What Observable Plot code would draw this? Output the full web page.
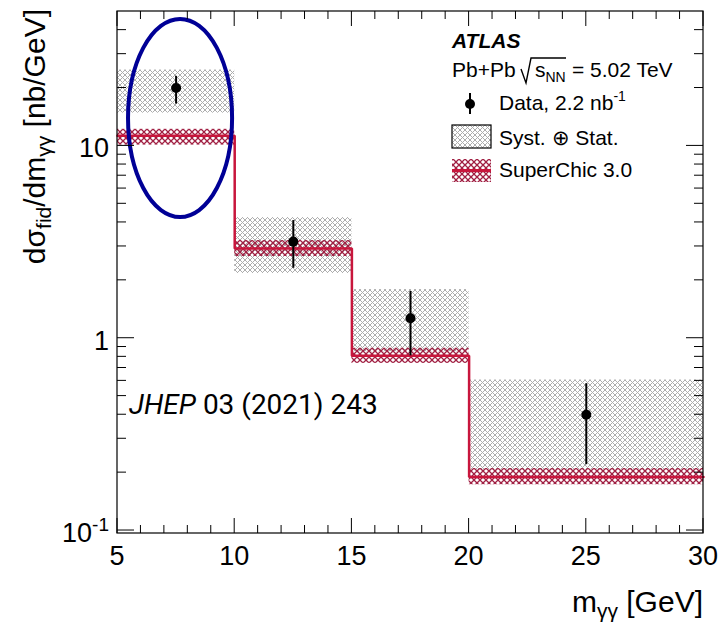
<!DOCTYPE html>
<html><head><meta charset="utf-8">
<script src="https://cdn.jsdelivr.net/npm/d3@7"></script>
<script src="https://cdn.jsdelivr.net/npm/@observablehq/plot@0.6"></script>
<style>body{margin:0;background:#fff} svg{display:block}</style>
</head><body><div id="chart"></div>
<script>
// ---- data ----
const binLo = [5, 10, 15, 20];
const binHi = [10, 15, 20, 30];
const binMid = [7.5, 12.5, 17.5, 25];
const dataY = [20.0, 3.18, 1.27, 0.40];
const statLo = [16.5, 2.31, 0.81, 0.22];
const statHi = [23.0, 4.09, 1.75, 0.58];
const systLo = [14.8, 2.17, 0.85, 0.207];
const systHi = [24.8, 4.24, 1.79, 0.606];
const theory = [11.3, 2.93, 0.81, 0.19];
const theoryLo = [10.1, 2.66, 0.74, 0.173];
const theoryHi = [12.2, 3.22, 0.887, 0.21];
// axis ticks
const xMajor = [5, 10, 15, 20, 25, 30];
const xMajorLabels = ["5", "10", "15", "20", "25", "30"];
const xMinor = [6, 7, 8, 9, 11, 12, 13, 14, 16, 17, 18, 19, 21, 22, 23, 24, 26, 27, 28, 29];
const yMajor = [0.1, 1, 10];
const yMajorLabels = [["10", "-1"], ["1", ""], ["10", ""]];
const yMinor = [0.2, 0.3, 0.4, 0.5, 0.6, 0.7, 0.8, 0.9, 2, 3, 4, 5, 6, 7, 8, 9, 20, 30, 40];
// highlight ellipse extent (data units)
const ellipseX = [5.47, 9.91];
const ellipseY = [4.24, 45.5];

const RED = "#c8163c", RED_HATCH = "#a01f42", GRAY_HATCH = "#adadad", BLUE = "#000096";
const FONT = "'Liberation Sans', Arial, Helvetica, sans-serif";

const bins = binLo.map((lo, i) => ({
  lo, hi: binHi[i], mid: binMid[i], y: dataY[i],
  eLo: statLo[i], eHi: statHi[i], sLo: systLo[i], sHi: systHi[i],
  t: theory[i], tLo: theoryLo[i], tHi: theoryHi[i]
}));
const step = [...binLo, binHi[binHi.length - 1]].map((x, i) => ({x, y: theory[Math.min(i, theory.length - 1)]}));

function defsMark() {
  const g = d3.create("svg:g");
  const defs = g.append("defs");
  const pg = defs.append("pattern").attr("id", "hatchGray").attr("patternUnits", "userSpaceOnUse")
    .attr("width", 5).attr("height", 5);
  pg.append("path").attr("d", "M-1,-1L6,6M6,-1L-1,6").attr("stroke", GRAY_HATCH).attr("stroke-width", 1).attr("fill", "none");
  const pr = defs.append("pattern").attr("id", "hatchRed").attr("patternUnits", "userSpaceOnUse")
    .attr("width", 6).attr("height", 6);
  pr.append("path").attr("d", "M-1,-1L7,7M7,-1L-1,7").attr("stroke", RED_HATCH).attr("stroke-width", 1.3).attr("fill", "none");
  return g.node();
}

function ellipseMark(index, {x, y}) {
  const x1 = x(ellipseX[0]), x2 = x(ellipseX[1]), y1 = y(ellipseY[0]), y2 = y(ellipseY[1]);
  const g = d3.create("svg:g");
  g.append("ellipse").attr("cx", (x1 + x2) / 2).attr("cy", (y1 + y2) / 2)
    .attr("rx", Math.abs(x2 - x1) / 2).attr("ry", Math.abs(y2 - y1) / 2)
    .attr("fill", "none").attr("stroke", BLUE).attr("stroke-width", 4);
  return g.node();
}

function axesMark(index, {x, y}, values, dims) {
  const {width, height, marginLeft, marginRight, marginTop, marginBottom} = dims;
  const L = marginLeft, R = width - marginRight, T = marginTop, B = height - marginBottom;
  const g = d3.create("svg:g");
  g.append("rect").attr("x", L).attr("y", T).attr("width", R - L).attr("height", B - T)
    .attr("fill", "none").attr("stroke", "black").attr("stroke-width", 1.2);
  let d = "";
  for (const v of xMajor) { const p = x(v); d += `M${p},${B}v-15M${p},${T}v15`; }
  for (const v of xMinor) { const p = x(v); d += `M${p},${B}v-8M${p},${T}v8`; }
  for (const v of yMajor) { const p = y(v); d += `M${L},${p}h17M${R},${p}h-17`; }
  for (const v of yMinor) { const p = y(v); d += `M${L},${p}h9M${R},${p}h-9`; }
  g.append("path").attr("d", d).attr("stroke", "black").attr("stroke-width", 1).attr("fill", "none");
  // x tick labels
  xMajor.forEach((v, i) => {
    g.append("text").attr("x", x(v)).attr("y", B + 32).attr("text-anchor", "middle")
      .attr("font-family", FONT).attr("font-size", 27).text(xMajorLabels[i]);
  });
  // y tick labels
  yMajor.forEach((v, i) => {
    const [base, sup] = yMajorLabels[i];
    const t = g.append("text").attr("x", L - 8).attr("y", y(v) + 12).attr("text-anchor", "end")
      .attr("font-family", FONT).attr("font-size", 27);
    t.append("tspan").text(base);
    if (sup) t.append("tspan").attr("dy", -11).attr("font-size", 19).text(sup);
  });
  // x axis title
  const xt = g.append("text").attr("x", R).attr("y", height - 14).attr("text-anchor", "end")
    .attr("font-family", FONT).attr("font-size", 30);
  xt.append("tspan").text("m");
  xt.append("tspan").attr("dy", 6).attr("font-size", 21).text("γγ");
  xt.append("tspan").attr("dy", -6).text(" [GeV]");
  // y axis title
  const yt = g.append("text").attr("transform", `translate(45,${T - 2}) rotate(-90)`).attr("text-anchor", "end")
    .attr("font-family", FONT).attr("font-size", 30);
  yt.append("tspan").text("dσ");
  yt.append("tspan").attr("dy", 6).attr("font-size", 21).text("fid");
  yt.append("tspan").attr("dy", -6).text("/dm");
  yt.append("tspan").attr("dy", 6).attr("font-size", 21).text("γγ");
  yt.append("tspan").attr("dy", -6).text(" [nb/GeV]");
  return g.node();
}

function annotationMark() {
  const g = d3.create("svg:g").attr("font-family", FONT).attr("text-anchor", "start");
  g.append("text").attr("x", 452).attr("y", 48).attr("font-size", 21)
    .attr("font-weight", "bold").attr("font-style", "italic").text("ATLAS");
  g.append("text").attr("x", 452).attr("y", 77).attr("font-size", 21).text("Pb+Pb");
  g.append("path").attr("d", "M521,69L526,83L531,58H566").attr("stroke", "black")
    .attr("stroke-width", 1.4).attr("fill", "none");
  const s = g.append("text").attr("x", 535).attr("y", 77).attr("font-size", 21);
  s.append("tspan").text("s");
  s.append("tspan").attr("dy", 5).attr("font-size", 14).text("NN");
  g.append("text").attr("x", 572).attr("y", 77).attr("font-size", 21).text("= 5.02 TeV");
  // data legend
  g.append("line").attr("x1", 470).attr("x2", 470).attr("y1", 93).attr("y2", 114)
    .attr("stroke", "black").attr("stroke-width", 2);
  g.append("circle").attr("cx", 470).attr("cy", 104).attr("r", 5).attr("fill", "black");
  const dt = g.append("text").attr("x", 499).attr("y", 110).attr("font-size", 21);
  dt.append("tspan").text("Data, 2.2 nb");
  dt.append("tspan").attr("dy", -9).attr("font-size", 14).text("-1");
  // syst legend
  g.append("rect").attr("x", 452).attr("y", 125).attr("width", 39).attr("height", 23)
    .attr("fill", "url(#hatchGray)").attr("stroke", "black").attr("stroke-width", 1.2);
  g.append("text").attr("x", 499).attr("y", 145).attr("font-size", 21).text("Syst. ⊕ Stat.");
  // theory legend
  g.append("rect").attr("x", 452).attr("y", 159).attr("width", 39).attr("height", 23)
    .attr("fill", "url(#hatchRed)");
  g.append("line").attr("x1", 452).attr("x2", 491).attr("y1", 170.5).attr("y2", 170.5)
    .attr("stroke", RED).attr("stroke-width", 3);
  g.append("text").attr("x", 499).attr("y", 177).attr("font-size", 21).text("SuperChic 3.0");
  // journal reference
  const j = g.append("text").attr("x", 129).attr("y", 414).attr("font-size", 28)
    .attr("font-family", "Roboto, 'Liberation Sans', sans-serif");
  j.append("tspan").attr("font-style", "italic").text("JHEP");
  j.append("tspan").text(" 03 (2021) 243");
  return g.node();
}

const chart = Plot.plot({
  width: 723,
  height: 626,
  marginLeft: 117,
  marginRight: 20,
  marginTop: 11,
  marginBottom: 93,
  x: {domain: [5, 30], axis: null},
  y: {type: "log", domain: [0.0965, 50], axis: null},
  style: {background: "white", overflow: "visible"},
  marks: [
    defsMark,
    Plot.rect(bins, {x1: "lo", x2: "hi", y1: "sLo", y2: "sHi", fill: "url(#hatchGray)"}),
    Plot.rect(bins, {x1: "lo", x2: "hi", y1: "tLo", y2: "tHi", fill: "url(#hatchRed)"}),
    Plot.line(step, {x: "x", y: "y", curve: "step-after", stroke: RED, strokeWidth: 2.5, strokeLinejoin: "miter"}),
    Plot.ruleX(bins, {x: "mid", y1: "eLo", y2: "eHi", stroke: "black", strokeWidth: 2}),
    Plot.dot(bins, {x: "mid", y: "y", r: 5, fill: "black", stroke: null}),
    ellipseMark,
    axesMark,
    annotationMark
  ]
});
document.getElementById("chart").appendChild(chart);
</script>
</body></html>
